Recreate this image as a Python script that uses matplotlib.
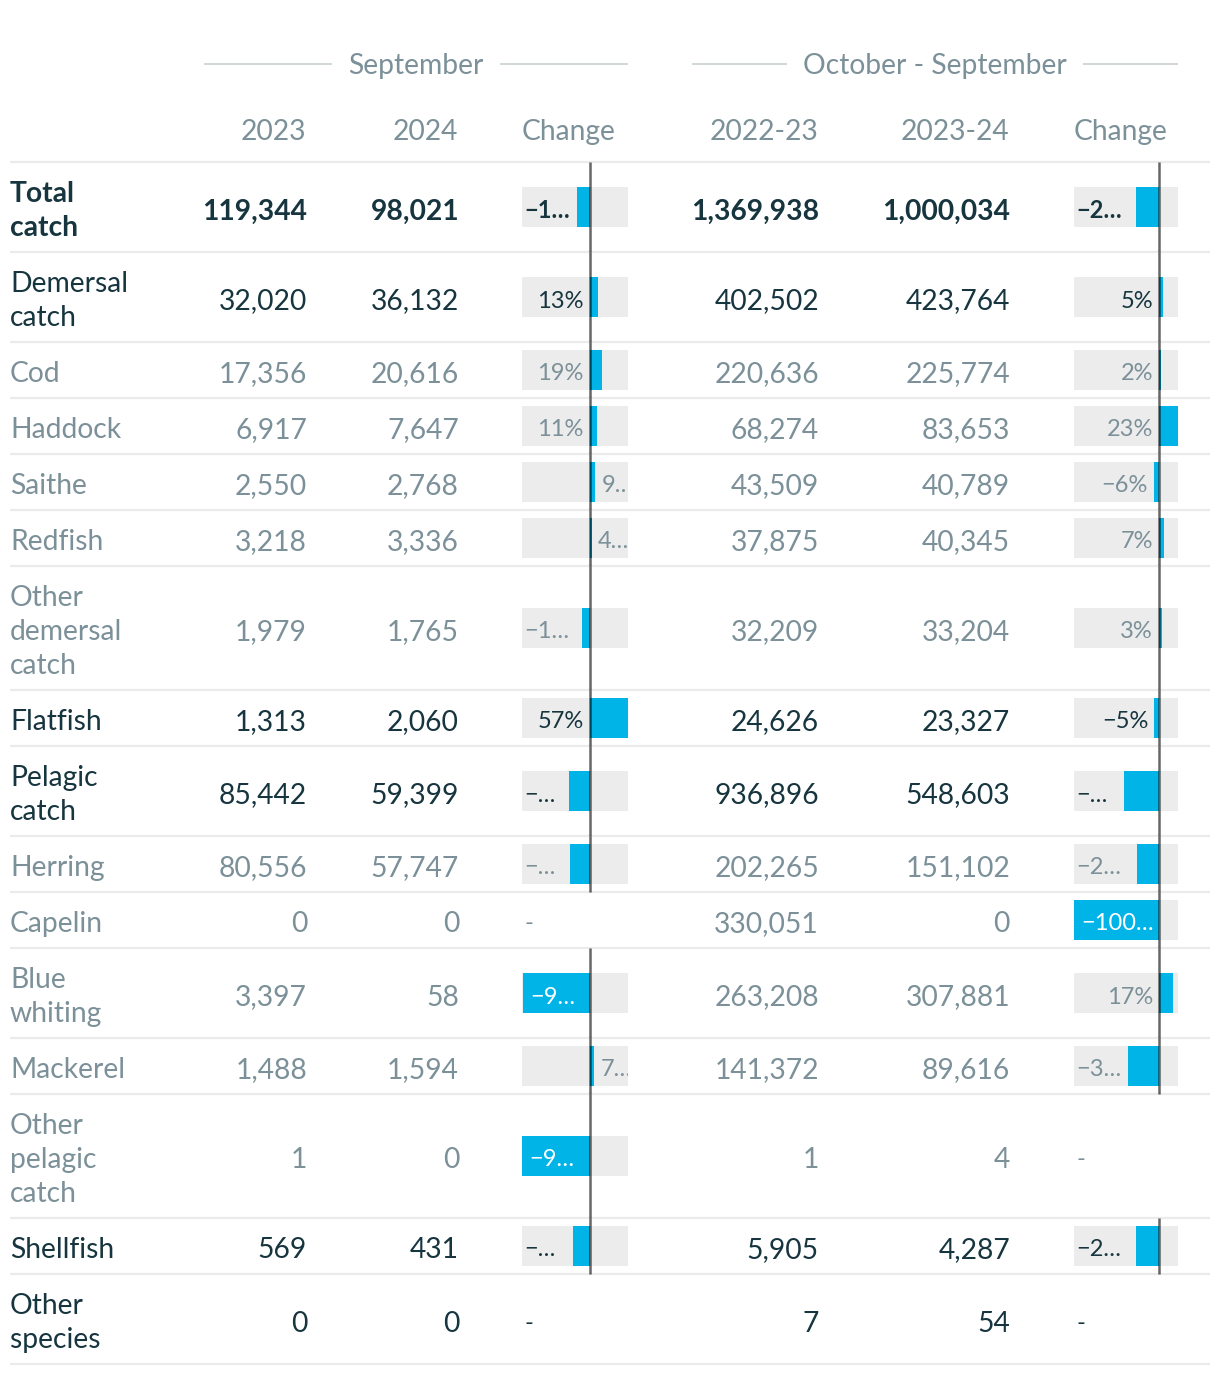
import matplotlib
matplotlib.use("Agg")
import matplotlib.pyplot as plt
import matplotlib.transforms as mtransforms
import numpy as np

plt.rcParams['font.family'] = ['Lato', 'DejaVu Sans']

# ---------------- data ----------------
categories = ["Total\ncatch", "Demersal\ncatch", "Cod", "Haddock", "Saithe", "Redfish",
              "Other\ndemersal\ncatch", "Flatfish", "Pelagic\ncatch", "Herring", "Capelin",
              "Blue\nwhiting", "Mackerel", "Other\npelagic\ncatch", "Shellfish", "Other\nspecies"]
level = [0, 1, 2, 2, 2, 2, 2, 1, 1, 2, 2, 2, 2, 2, 1, 1]

sep_2023 = [119344, 32020, 17356, 6917, 2550, 3218, 1979, 1313, 85442, 80556, 0, 3397, 1488, 1, 569, 0]
sep_2024 = [98021, 36132, 20616, 7647, 2768, 3336, 1765, 2060, 59399, 57747, 0, 58, 1594, 0, 431, 0]
sep_change = [-17.9, 12.8, 18.8, 10.6, 8.5, 3.7, -10.8, 56.9, -30.5, -28.3, np.nan, -98.3, 7.1, -100.0, -24.3, np.nan]
sep_labels = ["−1…", "13%", "19%", "11%", "9…", "4…", "−1…", "57%", "−…", "−…", "-", "−9…", "7…", "−9…", "−…", "-"]
sep_place = ['left', 'rzero', 'rzero', 'rzero', 'out', 'out', 'left', 'rzero', 'left', 'left', 'none',
             'in', 'out', 'in', 'left', 'none']

oct_2223 = [1369938, 402502, 220636, 68274, 43509, 37875, 32209, 24626, 936896, 202265, 330051,
            263208, 141372, 1, 5905, 7]
oct_2324 = [1000034, 423764, 225774, 83653, 40789, 40345, 33204, 23327, 548603, 151102, 0,
            307881, 89616, 4, 4287, 54]
oct_change = [-27.0, 5.3, 2.3, 22.5, -6.3, 6.5, 3.1, -5.3, -41.4, -25.3, -100.0, 17.0, -36.6, np.nan, -27.4, np.nan]
oct_labels = ["−2…", "5%", "2%", "23%", "−6%", "7%", "3%", "−5%", "−…", "−2…", "−100…", "17%", "−3…", "-", "−2…", "-"]
oct_place = ['left', 'rzero', 'rzero', 'rzero', 'rneg', 'rzero', 'rzero', 'rneg', 'left', 'left', 'in',
             'rzero', 'left', 'none', 'left', 'none']

group_titles = ["September", "October - September"]
col_headers = ["2023", "2024", "Change", "2022-23", "2023-24", "Change"]

# ---------------- style ----------------
W, H = 1220, 1376
DARK = "#17353f"
GREY = "#7b9098"
BLUE = "#00b4e8"
BG = "#ececec"
SEP = "#ebebeb"
FS = 20.3
FS_BAR = 17
LINE = 34

fig = plt.figure(figsize=(W / 100, H / 100), dpi=100)
ax = fig.add_axes([0, 0, 1, 1])
ax.set_xlim(0, W)
ax.set_ylim(H, 0)
ax.axis('off')

# row geometry
nlines = [c.count("\n") + 1 for c in categories]
heights = [22 + LINE * n for n in nlines]
top0 = 162
tops = top0 + np.concatenate([[0], np.cumsum(heights)[:-1]])
bottoms = tops + np.array(heights)
centers = (tops + bottoms) / 2

# header
renderer = fig.canvas.get_renderer()
groups = [(204, 628), (692, 1178)]
for (x0, x1), title in zip(groups, group_titles):
    xc = (x0 + x1) / 2
    t = ax.text(xc, 74, title, ha='center', va='baseline', fontsize=FS, color=GREY)
    bb = t.get_window_extent(renderer=renderer)
    half = bb.width / 2
    ax.hlines(64, x0, xc - half - 16, color="#c9cfd2", lw=1.2)
    ax.hlines(64, xc + half + 16, x1, color="#c9cfd2", lw=1.2)

num_x = [306, 458, 818, 1009]
for x, h in zip(num_x[:2], col_headers[:2]):
    ax.text(x, 140, h, ha='right', va='baseline', fontsize=FS, color=GREY)
ax.text(522, 140, col_headers[2], ha='left', va='baseline', fontsize=FS, color=GREY)
for x, h in zip(num_x[2:], col_headers[3:5]):
    ax.text(x, 140, h, ha='right', va='baseline', fontsize=FS, color=GREY)
ax.text(1074, 140, col_headers[5], ha='left', va='baseline', fontsize=FS, color=GREY)

# separators
ax.hlines(np.concatenate([[top0], bottoms]), 10, 1210, color=SEP, lw=1.6)

# rows
for i, cat in enumerate(categories):
    col = DARK if level[i] < 2 else GREY
    fw = 'bold' if level[i] == 0 else 'normal'
    lines = cat.split("\n")
    n = len(lines)
    for k, ln in enumerate(lines):
        y = centers[i] + (k - (n - 1) / 2) * LINE + 12
        ax.text(10, y, ln, ha='left', va='baseline', fontsize=FS, color=col, fontweight=fw)
    vals = [sep_2023[i], sep_2024[i], oct_2223[i], oct_2324[i]]
    for x, v in zip(num_x, vals):
        ax.text(x + 1, centers[i] + 12.5, f"{v:,}", ha='right', va='baseline', fontsize=FS,
                color=col, fontweight=fw)


def change_column(x0, width, changes, labels, places):
    ch = np.array(changes, dtype=float)
    lo, hi = np.nanmin(ch), np.nanmax(ch)
    cax = fig.add_axes([x0 / W, 0, width / W, 1])
    cax.set_xlim(lo, hi)
    cax.set_ylim(H, 0)
    cax.axis('off')
    ok = ~np.isnan(ch)
    cax.barh(centers[ok], hi - lo, left=lo, height=40, color=BG, zorder=1)
    cax.barh(centers[ok], ch[ok], height=40, color=BLUE, zorder=2)
    cax.vlines(np.zeros(ok.sum()), tops[ok], bottoms[ok], color='black', alpha=0.6, lw=1.8, zorder=3)

    def off(dx):
        return mtransforms.offset_copy(cax.transData, fig=fig, x=dx, y=0, units='dots')

    for i, (lab, pl) in enumerate(zip(labels, places)):
        col = DARK if level[i] < 2 else GREY
        fw = 'bold' if level[i] == 0 else 'normal'
        y = centers[i] + 10.5
        v = ch[i]
        if pl == 'left' or pl == 'none':
            cax.text(lo, y, lab, transform=off(2), ha='left', va='baseline', fontsize=FS_BAR,
                     color=col, fontweight=fw, clip_on=True, zorder=4)
        elif pl == 'in':
            cax.text(v, y, lab, transform=off(7), ha='left', va='baseline', fontsize=FS_BAR,
                     color='white', fontweight=fw, clip_on=True, zorder=4)
        elif pl == 'rzero':
            cax.text(0, y, lab, transform=off(-6), ha='right', va='baseline', fontsize=FS_BAR,
                     color=col, fontweight=fw, clip_on=True, zorder=4)
        elif pl == 'rneg':
            cax.text(v, y, lab, transform=off(-6), ha='right', va='baseline', fontsize=FS_BAR,
                     color=col, fontweight=fw, clip_on=True, zorder=4)
        elif pl == 'out':
            cax.text(v, y, lab, transform=off(6), ha='left', va='baseline', fontsize=FS_BAR,
                     color=col, fontweight=fw, clip_on=True, zorder=4)


change_column(522, 106, sep_change, sep_labels, sep_place)
change_column(1074, 104, oct_change, oct_labels, oct_place)

fig.savefig("out.png", dpi=100, facecolor='white')
